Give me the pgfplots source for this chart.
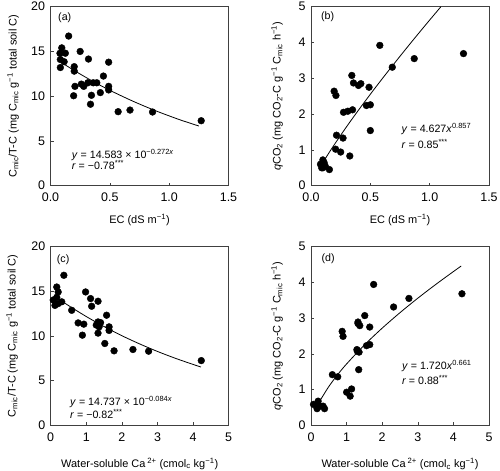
\documentclass[border=0pt]{standalone}
\usepackage{fontspec}
\setmainfont{Liberation Sans}
\usepackage{pgfplots}
\pgfplotsset{compat=1.18}
\pgfplotsset{myax/.style={scale only axis, width=178bp, height=179bp, anchor=south west,
  axis line style={black!75, line width=0.7pt}, tick align=inside, xtick pos=left, ytick pos=left,
  major tick length=3bp, tick style={black!75, line width=0.6pt},
  ticklabel style={font=\fontsize{12.5}{14}\selectfont},
  label style={font=\fontsize{11}{13}\selectfont},
  /pgf/number format/assume math mode=true,
  xticklabel style={yshift=-4bp}, yticklabel style={xshift=-2bp},
  clip=true},
  dots/.style={only marks, mark=*, mark size=3.4pt, black},
  fit/.style={no marks, black, line width=0.8pt, smooth}}
\newcommand{\eqfont}{\fontsize{10.7}{12}\selectfont}
\begin{document}
\begin{tikzpicture}
\useasboundingbox (0,0) rectangle (500bp,471bp);
% (a)
\begin{axis}[myax, at={(50.5bp,285.3bp)}, xmin=0, xmax=1.5, ymin=0, ymax=20,
  xtick={0,0.5,1,1.5}, ytick={0,5,10,15,20},
  xticklabel style={/pgf/number format/.cd, fixed, fixed zerofill, precision=1},
  xlabel={EC (dS m\textsuperscript{−1})},
  ylabel={C\textsubscript{mic}/T-C (mg C\textsubscript{mic} g\textsuperscript{−1} total soil C)},
  xlabel style={at={(axis description cs:0.5,-0.19)}, anchor=center},
  ylabel style={at={(axis description cs:-0.21,0.5)}, anchor=center}]
\addplot[fit] coordinates {(0.09,13.78) (0.2,12.87) (0.3,12.09) (0.4,11.35) (0.5,10.66) (0.6,10.02) (0.7,9.41) (0.8,8.84) (0.9,8.30) (1.0,7.80) (1.1,7.32) (1.25,6.67)};
\addplot[dots] coordinates {(0.153,16.72) (0.095,15.4) (0.125,14.8) (0.08,14.8) (0.083,14.1) (0.115,13.85) (0.083,13.2) (0.25,15.0) (0.32,14.15) (0.49,13.8) (0.2,13.3) (0.2,12.8) (0.446,12.25) (0.206,11.1) (0.26,11.35) (0.28,11.1) (0.315,11.5) (0.36,11.5) (0.39,11.5) (0.49,11.1) (0.49,10.7) (0.195,10.05) (0.345,10.1) (0.42,10.4) (0.337,9.1) (0.57,8.27) (0.67,8.45) (0.86,8.23) (1.27,7.26)};
\node[font=\eqfont] at (axis cs:0.12,18.77) {(a)};
\node[font=\eqfont, anchor=base west] at (axis cs:0.15,3.05) {\textit{y} = 14.583 × 10\textsuperscript{−0.272\textit{x}}};
\node[font=\eqfont, anchor=base west] at (axis cs:0.15,1.8) {\textit{r} = −0.78\textsuperscript{***}};
\end{axis}
% (b)
\begin{axis}[myax, at={(311bp,285.3bp)}, xmin=0, xmax=1.5, ymin=0, ymax=5,
  xtick={0,0.5,1,1.5}, ytick={0,1,2,3,4,5},
  xticklabel style={/pgf/number format/.cd, fixed, fixed zerofill, precision=1},
  xlabel={EC (dS m\textsuperscript{−1})},
  ylabel={\textit{q}CO\textsubscript{2} (mg CO\textsubscript{2}-C g\textsuperscript{−1} C\textsubscript{mic} h\textsuperscript{−1})},
  xlabel style={at={(axis description cs:0.5,-0.19)}, anchor=center},
  ylabel style={at={(axis description cs:-0.19,0.5)}, anchor=center}]
\addplot[fit] coordinates {(0.12,0.752) (0.15,0.911) (0.2,1.165) (0.3,1.649) (0.4,2.110) (0.5,2.555) (0.6,2.987) (0.7,3.408) (0.8,3.822) (0.9,4.228) (1.0,4.627) (1.094,4.997)};
\addplot[dots] coordinates {(0.58,3.92) (0.685,3.31) (0.87,3.55) (1.285,3.69) (0.344,3.08) (0.358,2.87) (0.40,2.80) (0.42,2.85) (0.489,2.75) (0.195,2.64) (0.21,2.52) (0.274,2.05) (0.31,2.08) (0.35,2.12) (0.467,2.24) (0.50,2.26) (0.215,1.41) (0.27,1.33) (0.207,1.02) (0.25,0.94) (0.327,0.83) (0.50,1.54) (0.08,0.6) (0.1,0.72) (0.09,0.5) (0.12,0.55) (0.155,0.45) (0.11,0.65) (0.1,0.5)};
\node[font=\eqfont] at (axis cs:0.14,4.73) {(b)};
\node[font=\eqfont, anchor=base west] at (axis cs:0.735,1.49) {\textit{y} = 4.627\textit{x}\textsuperscript{0.857}};
\node[font=\eqfont, anchor=base west] at (axis cs:0.735,1.05) {\textit{r} = 0.85\textsuperscript{***}};
\end{axis}
% (c)
\begin{axis}[myax, at={(50.7bp,45.7bp)}, xmin=0, xmax=5, ymin=0, ymax=20,
  xtick={0,1,2,3,4,5}, ytick={0,5,10,15,20},
  xlabel={Water-soluble Ca\,\textsuperscript{2+} (cmol\textsubscript{c} kg\textsuperscript{−1})},
  ylabel={C\textsubscript{mic}/T-C (mg C\textsubscript{mic} g\textsuperscript{−1} total soil C)},
  xlabel style={at={(axis description cs:0.5,-0.215)}, anchor=center},
  ylabel style={at={(axis description cs:-0.217,0.5)}, anchor=center}]
\addplot[fit] coordinates {(0.2,14.18) (0.5,13.38) (1,12.15) (1.5,11.03) (2,10.01) (2.5,9.09) (3,8.25) (3.5,7.49) (4,6.80) (4.22,6.51)};
\addplot[dots] coordinates {(0.37,16.76) (0.17,15.45) (0.21,14.9) (0.17,14.3) (0.31,13.8) (0.21,13.6) (0.12,13.4) (0.07,14.0) (0.98,14.9) (1.12,14.16) (1.15,13.3) (1.33,13.86) (0.59,12.85) (1.57,12.3) (0.77,11.44) (0.93,11.3) (1.33,11.55) (1.40,11.47) (1.36,11.0) (1.64,11.0) (1.64,10.6) (0.89,10.07) (1.33,10.3) (1.52,9.14) (1.78,8.32) (2.31,8.47) (2.75,8.28) (4.23,7.23) (1.28,11.2)};
\node[font=\eqfont] at (axis cs:0.35,18.5) {(c)};
\node[font=\eqfont, anchor=base west] at (axis cs:0.45,2.25) {\textit{y} = 14.737 × 10\textsuperscript{−0.084\textit{x}}};
\node[font=\eqfont, anchor=base west] at (axis cs:0.45,0.8) {\textit{r} = −0.82\textsuperscript{***}};
\end{axis}
% (d)
\begin{axis}[myax, at={(311bp,45.5bp)}, xmin=0, xmax=5, ymin=0, ymax=5,
  xtick={0,1,2,3,4,5}, ytick={0,1,2,3,4,5},
  xlabel={Water-soluble Ca\,\textsuperscript{2+} (cmol\textsubscript{c} kg\textsuperscript{−1})},
  ylabel={\textit{q}CO\textsubscript{2} (mg CO\textsubscript{2}-C g\textsuperscript{−1} C\textsubscript{mic} h\textsuperscript{−1})},
  xlabel style={at={(axis description cs:0.5,-0.215)}, anchor=center},
  ylabel style={at={(axis description cs:-0.19,0.5)}, anchor=center}]
\addplot[fit] coordinates {(0.25,0.688) (0.5,1.088) (0.75,1.422) (1,1.720) (1.5,2.249) (2,2.720) (2.5,3.152) (3,3.556) (3.5,3.937) (4,4.300) (4.22,4.455)};
\addplot[dots] coordinates {(1.76,3.94) (2.32,3.31) (2.75,3.55) (4.24,3.68) (1.51,3.07) (1.32,2.89) (1.37,2.79) (1.65,2.75) (0.875,2.63) (0.90,2.49) (1.29,2.12) (1.35,2.05) (1.56,2.23) (1.65,2.26) (1.34,1.56) (0.6,1.42) (0.75,1.36) (1.0,0.93) (1.14,1.02) (1.10,0.82) (0.07,0.59) (0.2,0.68) (0.25,0.54) (0.17,0.47) (0.34,0.54) (0.38,0.47) (0.2,0.6) (1.32,2.85) (1.3,2.08)};
\node[font=\eqfont] at (axis cs:0.48,4.66) {(d)};
\node[font=\eqfont, anchor=base west] at (axis cs:2.46,1.56) {\textit{y} = 1.720\textit{x}\textsuperscript{0.661}};
\node[font=\eqfont, anchor=base west] at (axis cs:2.46,1.15) {\textit{r} = 0.88\textsuperscript{***}};
\end{axis}
\end{tikzpicture}
\end{document}
